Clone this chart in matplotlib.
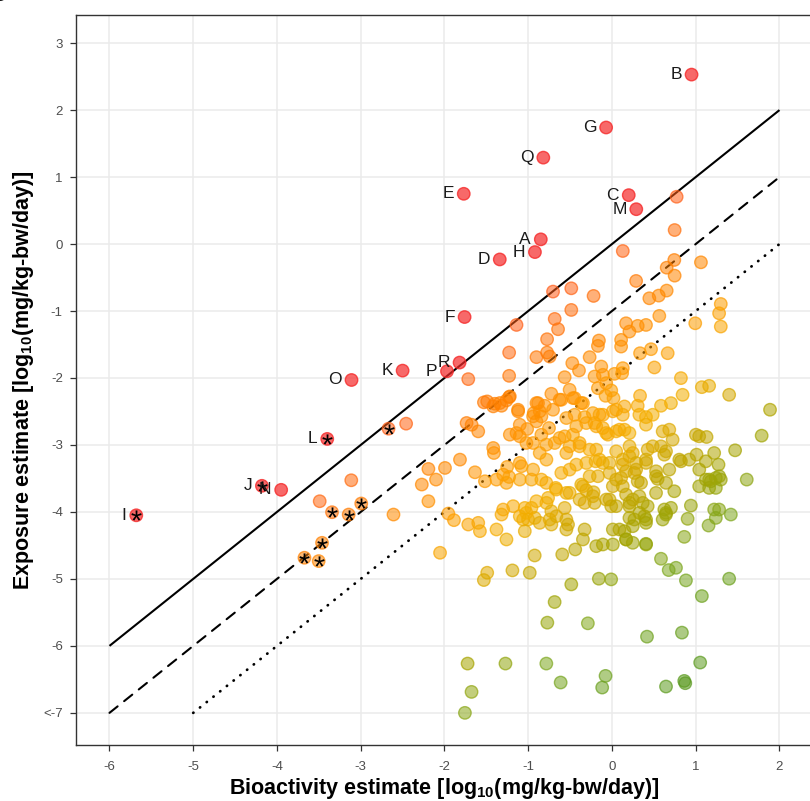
import numpy as np
import matplotlib
matplotlib.use("Agg")
import matplotlib.pyplot as plt
from matplotlib.colors import LinearSegmentedColormap, Normalize, to_rgba

plt.rcParams["font.family"] = ["Liberation Sans", "DejaVu Sans"]
plt.rcParams["mathtext.fontset"] = "custom"
plt.rcParams["mathtext.rm"] = "Liberation Sans"
plt.rcParams["mathtext.bf"] = "Liberation Sans:bold"

# ---- labelled chemicals (log10 mg/kg-bw/day) ----
label_names = ["B", "G", "Q", "E", "C", "M", "A", "H", "D", "F", "R", "P", "K", "O", "L", "J", "N", "I"]
label_bio = [0.95, -0.07, -0.82, -1.77, 0.20, 0.29, -0.85, -0.92, -1.34, -1.76, -1.82, -1.97, -2.50, -3.11, -3.40, -4.18, -3.95, -5.68]
label_exp = [2.53, 1.74, 1.29, 0.75, 0.73, 0.52, 0.07, -0.12, -0.23, -1.09, -1.77, -1.90, -1.89, -2.03, -2.91, -3.61, -3.67, -4.05]
label_flagged = ["L", "J", "I"]

# ---- unlabelled chemicals carrying a flag (*) ----
flag_bio = [-2.668, -3.343, -3.144, -2.994, -3.462, -3.672, -3.502]
flag_exp = [-2.757, -4.004, -4.039, -3.874, -4.461, -4.684, -4.734]

# ---- remaining chemicals ----
other_bio = [
    0.772, 0.748, 0.129, 0.744, 0.653, 0.748, 1.062, 0.288, -0.486, -0.220, 0.446, 0.558, 0.653,
    -0.704, -1.716, -2.458, -1.736, -3.113, -3.490, -2.609, -2.192, -1.994, -1.815, -2.271, -2.101,
    -2.192, -2.053, -1.954, -1.887, -1.716, -1.724, -1.677, -1.756,
    -1.140, -0.486, -0.684, -0.644, -0.775, -1.228, -0.902, -0.775, -0.744, -0.267, -0.156, -0.168,
    -1.228, -0.474, -0.394, -0.565, -0.128, -0.109, -0.208, 0.030, -0.069, -0.168, -0.009, -0.077,
    0.018, -0.506, -0.446, -0.347, -0.625, -0.724, -0.803, -0.883, -1.121, -1.228, -1.490, -1.398,
    -1.319, -1.260, -0.934, -0.843, -0.446, -0.327, -0.228, -0.109, 0.050,
    1.299, 1.279, 1.299, 0.994, 0.565, 0.406, 0.307, 0.168, 0.208, 0.109, 0.109, 0.466, 0.335,
    0.665, 0.506, 0.129, 0.121, 0.823, 1.073, 1.160, 1.399, 1.887, 0.335, 0.843, 0.704, 0.585,
    0.307, 0.149, 0.327, 0.486, 0.406, 0.129,
    -1.676, -1.597, -1.517, -1.636, -1.418, -1.410, -1.299, -1.252, -1.228, -1.101, -1.081, -1.101,
    -1.013, -0.902, -0.942, -0.843, -0.752, -0.684, -0.565, -0.466, -0.387, -0.545, -0.863, -0.783,
    -0.962, -0.843, -0.672, -0.545, -0.763, -0.605, -0.506, -0.426, -0.307, -0.196, -0.109, -0.188,
    -0.069, 0.050, -0.188, -0.109, -0.307, 0.050, -0.367, -0.307, -0.220, -0.267, -0.168, -0.029,
    0.050, 0.010, -0.029, -0.009, -0.387, -0.327, -0.208, -0.565, -0.783, -0.724, -0.664, -0.902,
    -0.962, -1.041, -1.101, -1.061, -1.002, -0.744, -0.724, -0.922, -0.545, -0.525, -1.299, -1.319,
    -1.379, -1.597, -1.577, -1.041, -1.260, -0.327, -0.188, -0.109, 0.010, -1.140,
    0.149, 0.208, 0.605, 0.684, 0.724, 1.002, 1.041, 1.129, 1.787, 1.470, 1.220, 1.272, 1.121,
    1.010, 0.922, 0.823, 0.684, 0.526, 0.545, 0.426, 0.486, 0.585, 0.645, 0.625, 0.248, 0.208,
    0.288, 0.406, 0.129, 0.168, 0.109, 0.268, 0.307, 0.347, 0.129, 0.168, 0.327, 0.367, 0.426,
    0.387, 0.406, 0.526, 0.744, 0.625, 0.645, 0.704, 0.248, 0.208, 0.208, 0.268, 0.248, 1.041,
    1.121, 1.180, 1.240, 1.299, 1.160, 1.240, 1.609, 0.942, 0.903, 1.220, 1.279, 1.240, 1.419,
    1.153, 0.863, 0.089, 0.149, 0.168, 0.248, 0.406, 0.406,
    -1.490, -1.530, -1.189, -0.982, -0.923, -0.594, -0.439, 0.585, 0.677, 0.764, 0.883, 1.399,
    1.073, -0.685, -0.486, -0.157, -0.010, -0.772, -0.288, 0.418, 0.835, -1.272, -0.784, -0.613,
    -0.077, -0.117, 0.645, 0.863, 0.875, 1.053,
    -1.529, -1.418, -1.339, -1.220, -1.121, -0.902, -0.863, -0.942, -0.704, -0.605, -0.466, -0.367,
    -0.545, -0.426, -0.149, -0.208, 0.010, 0.089, -0.049, -1.220, -1.101, -1.022, -0.784, -0.625,
    -0.506, -0.387, -0.268, -0.149, -0.030, 0.129, 0.209, 0.288, 0.407, 0.526, 0.645, 0.804,
    1.042, 1.161, 1.280, -1.101, -0.942, -0.784, -0.665, -0.506, -0.347, -0.228, -0.069, 0.050,
    0.209, 0.328, 0.407, 0.645, -1.379, -1.260, -1.180, -1.022, -0.863, -0.545, -0.347, 0.010,
    0.169, 0.407, 0.605,
]
other_exp = [
    0.706, 0.209, -0.104, -0.238, -0.353, -0.472, -0.273, -0.551, -0.661, -0.775, -0.810, -0.770, -0.695,
    -0.710, -2.017, -2.682, -2.672, -3.527, -3.840, -4.039, -3.358, -3.343, -3.219, -3.591, -3.517,
    -3.840, -4.610, -4.024, -4.123, -4.188, -6.264, -6.687, -7.000,
    -1.208, -0.984, -1.118, -1.272, -1.421, -1.620, -1.689, -1.620, -1.680, -1.689, -1.441, -1.521,
    -1.968, -1.779, -1.888, -1.988, -1.829, -1.953, -1.978, -1.938, -2.077, -2.152, -2.186, -2.266,
    -2.300, -2.176, -2.300, -2.375, -2.325, -2.236, -2.415, -2.375, -2.474, -2.286, -2.350, -2.385,
    -2.415, -2.335, -2.524, -2.574, -2.549, -2.584, -2.524, -2.549, -2.474,
    -0.895, -1.034, -1.232, -1.183, -1.073, -1.208, -1.222, -1.183, -1.307, -1.431, -1.531, -1.570, -1.630,
    -1.630, -1.843, -1.853, -1.928, -2.002, -2.137, -2.117, -2.251, -2.474, -2.266, -2.251, -2.375, -2.415,
    -2.415, -2.425, -2.549, -2.549, -2.584, -2.549,
    -2.698, -2.797, -3.542, -3.408, -3.045, -3.120, -3.443, -3.328, -3.478, -3.517, -3.318, -2.698,
    -2.762, -2.648, -2.971, -2.847, -2.747, -2.971, -2.871, -2.847, -3.020, -3.120, -3.120, -3.219,
    -3.517, -3.517, -3.641, -3.716, -3.790, -3.418, -3.368, -3.294, -3.269, -3.244, -3.269, -3.070,
    -2.822, -2.797, -2.722, -2.747, -2.673, -3.095, -3.592, -3.676, -3.706, -3.467, -3.467, -3.418,
    -3.517, -3.616, -3.815, -3.915, -3.815, -3.865, -3.865, -3.940, -3.865, -3.989, -4.064, -3.840,
    -3.940, -3.940, -4.064, -4.113, -4.113, -4.113, -4.188, -4.089, -4.113, -4.188, -3.964, -4.039,
    -4.262, -4.163, -4.287, -4.287, -4.411, -4.262, -4.511, -4.486, -4.486, -2.822,
    -2.772, -2.822, -2.797, -2.772, -2.921, -2.847, -2.871, -2.881, -2.861, -3.080, -3.120, -3.294, -3.244,
    -3.145, -3.219, -3.244, -3.368, -3.393, -3.507, -3.070, -3.020, -3.020, -3.095, -3.145, -3.120, -3.169,
    -3.269, -3.219, -3.294, -3.393, -3.492, -3.418, -3.542, -3.567, -3.617, -3.741, -3.766, -3.865, -3.915,
    -4.064, -4.163, -3.716, -3.691, -3.964, -4.039, -3.939, -3.815, -3.915, -4.089, -4.113, -4.213, -3.617,
    -3.517, -3.542, -3.492, -3.517, -3.641, -3.641, -3.517, -3.905, -4.103, -3.964, -3.964, -4.089, -4.039,
    -4.203, -4.372, -4.262, -4.287, -4.411, -4.461, -4.476, -2.697,
    -4.908, -5.017, -4.873, -4.908, -4.650, -4.635, -4.560, -4.699, -4.868, -4.834, -5.022, -4.997,
    -5.256, -5.345, -5.082, -4.997, -5.007, -5.653, -5.663, -5.862, -5.802, -6.264, -6.264, -6.547,
    -6.448, -6.622, -6.607, -6.523, -6.557, -6.249,
    -2.364, -2.424, -2.374, -2.275, -2.498, -2.374, -2.498, -2.573, -2.474, -2.325, -2.300, -2.374,
    -2.598, -2.722, -2.548, -2.672, -2.498, -2.772, -2.846, -2.846, -2.871, -2.970, -2.995, -2.896,
    -3.020, -2.970, -3.070, -3.219, -3.268, -3.219, -3.020, -3.368, -3.268, -3.467, -3.566, -3.219,
    -3.368, -3.517, -3.467, -3.268, -3.368, -3.566, -3.666, -3.715, -3.616, -3.765, -3.815, -3.914,
    -3.864, -4.014, -4.113, -4.014, -3.517, -3.566, -3.914, -4.014, -4.163, -4.262, -4.411, -4.262,
    -4.411, -4.486, -4.113,
]

# reference lines: exposure = bioactivity, and one / two orders of magnitude below
ref_offsets = [0, -1, -2]
ref_x_start = [-6, -6, -5]
ref_x_end = [2, 2, 2]
ref_styles = ["-", (0, (5, 4)), (0, (0.1, 3.0))]
ref_widths = [1.5, 1.5, 2.0]

x_ticks = [-6, -5, -4, -3, -2, -1, 0, 1, 2]
y_ticks = [3, 2, 1, 0, -1, -2, -3, -4, -5, -6, -7]
y_tick_labels = ["3", "2", "1", "0", "-1", "-2", "-3", "-4", "-5", "-6", "<-7"]

# colour scale on margin (exposure - bioactivity)
margin_cmap = LinearSegmentedColormap.from_list(
    "margin",
    [(0.0, "#5A9A20"), (2.0 / 7.5, "#7FA820"), (3.0 / 7.5, "#A8A400"), (3.8 / 7.5, "#D2A800"),
     (4.5 / 7.5, "#F5AE00"), (5.5 / 7.5, "#FF9A00"), (6.5 / 7.5, "#FF8000"), (1.0, "#FF5E1A")],
)
margin_norm = Normalize(vmin=-7.5, vmax=0.0)
above_colour = "#F52A2A"


def point_colours(bio, exp, face_alpha, edge_alpha):
    bio = np.asarray(bio)
    exp = np.asarray(exp)
    margin = exp - bio
    faces, edges = [], []
    for m in margin:
        base = above_colour if m > 0 else margin_cmap(margin_norm(m))
        faces.append(to_rgba(base, face_alpha))
        edges.append(to_rgba(base, edge_alpha))
    return faces, edges


fig = plt.figure(figsize=(8.10, 8.01), dpi=100)
ax = fig.add_axes([0.0938, 0.0699, 0.9099, 0.9114])

ax.set_xlim(-6.4, 2.4)
ax.set_ylim(-7.48, 3.42)
ax.set_xticks(x_ticks)
ax.set_xticklabels([str(t) for t in x_ticks])
ax.set_yticks(y_ticks)
ax.set_yticklabels(y_tick_labels)
ax.grid(True, color="#EBEBEB", linewidth=1.1, zorder=0)
ax.set_axisbelow(True)
for side in ax.spines.values():
    side.set_color("#333333")
    side.set_linewidth(1.0)
ax.tick_params(axis="both", which="major", length=4.5, width=0.9, color="#333333",
               labelcolor="#4D4D4D", labelsize=9.5)
ax.tick_params(axis="x", pad=7)
ax.tick_params(axis="y", pad=5)

# reference lines
for off, xs, xe, ls, lw in zip(ref_offsets, ref_x_start, ref_x_end, ref_styles, ref_widths):
    xx = np.array([xs, xe], dtype=float)
    ax.plot(xx, xx + off, color="black", linewidth=lw, linestyle=ls,
            dash_capstyle="round", solid_capstyle="butt", zorder=2)

# points
all_bio = other_bio + flag_bio
all_exp = other_exp + flag_exp
fc, ec = point_colours(all_bio, all_exp, 0.55, 0.7)
ax.scatter(all_bio, all_exp, s=80, c=fc, edgecolors=ec, linewidths=1.0, zorder=3)

fc, ec = point_colours(label_bio, label_exp, 0.7, 0.8)
ax.scatter(label_bio, label_exp, s=80, c=fc, edgecolors=ec, linewidths=1.0, zorder=4)

# flag markers
star_bio = flag_bio + [b for n, b in zip(label_names, label_bio) if n in label_flagged]
star_exp = flag_exp + [e for n, e in zip(label_names, label_exp) if n in label_flagged]
ax.scatter(star_bio, star_exp, s=55, marker="$*$", color="black", linewidths=0, zorder=5)

# chemical labels
for name, b, e in zip(label_names, label_bio, label_exp):
    ax.annotate(name, (b, e), xytext=(-7, 0), textcoords="offset points",
                ha="right", va="center", fontsize=12.5, color="#1A1A1A", zorder=6)

ax.set_xlabel(r"Bioactivity estimate [log$_{\mathbf{10}}$(mg/kg-bw/day)]",
              fontsize=15.5, fontweight="bold", labelpad=2)
ax.set_ylabel(r"Exposure estimate [log$_{\mathbf{10}}$(mg/kg-bw/day)]",
              fontsize=15.5, fontweight="bold", labelpad=5)

fig.text(0.007, 0.993, "C", ha="right", va="bottom", fontsize=16, fontweight="bold")

fig.savefig("out.png", dpi=100)
